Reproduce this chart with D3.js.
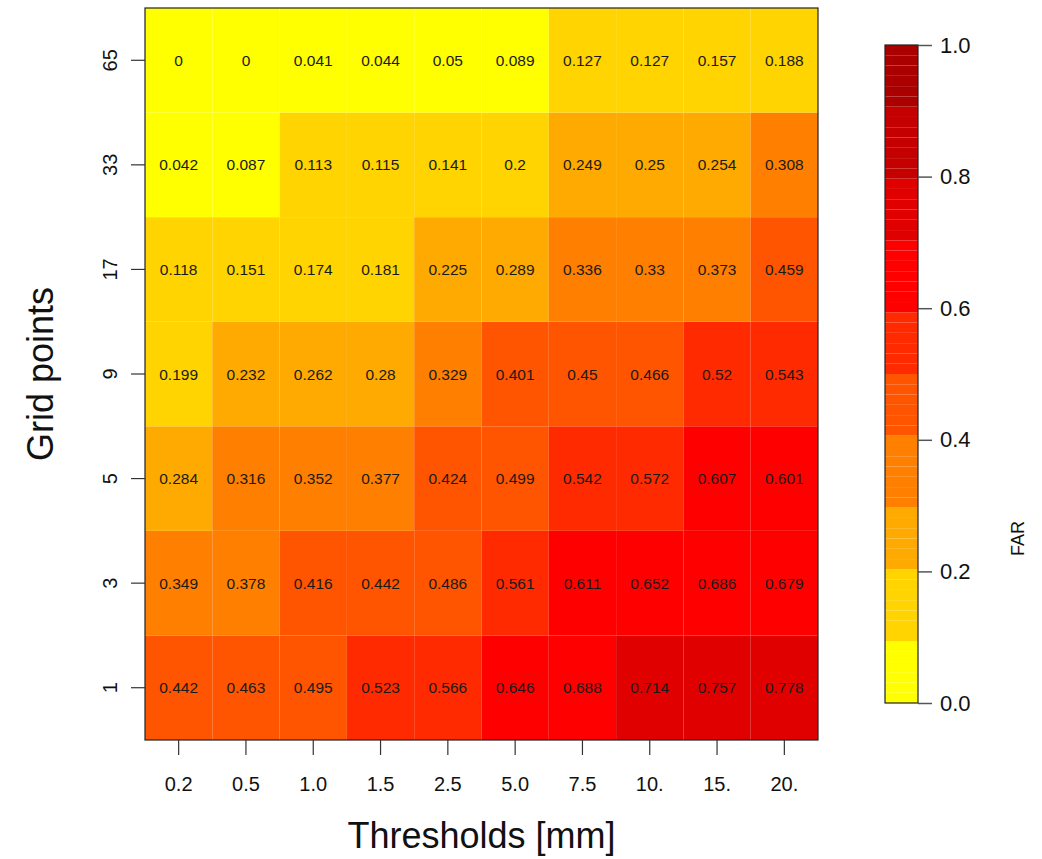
<!DOCTYPE html>
<html>
<head>
<meta charset="utf-8">
<script src="https://cdn.jsdelivr.net/npm/d3@7/dist/d3.min.js"></script>
<style>
  html, body { margin: 0; padding: 0; background: #fff; }
  svg { display: block; font-family: "Liberation Sans", Arial, Helvetica, sans-serif; }
</style>
</head>
<body>
<svg id="chart" width="1042" height="859"></svg>
<script>
// ---- data ----
const thresholds = ["0.2", "0.5", "1.0", "1.5", "2.5", "5.0", "7.5", "10.", "15.", "20."];
const gridPoints = ["1", "3", "5", "9", "17", "33", "65"];
const far1  = [0.442, 0.463, 0.495, 0.523, 0.566, 0.646, 0.688, 0.714, 0.757, 0.778];
const far3  = [0.349, 0.378, 0.416, 0.442, 0.486, 0.561, 0.611, 0.652, 0.686, 0.679];
const far5  = [0.284, 0.316, 0.352, 0.377, 0.424, 0.499, 0.542, 0.572, 0.607, 0.601];
const far9  = [0.199, 0.232, 0.262, 0.28, 0.329, 0.401, 0.45, 0.466, 0.52, 0.543];
const far17 = [0.118, 0.151, 0.174, 0.181, 0.225, 0.289, 0.336, 0.33, 0.373, 0.459];
const far33 = [0.042, 0.087, 0.113, 0.115, 0.141, 0.2, 0.249, 0.25, 0.254, 0.308];
const far65 = [0, 0, 0.041, 0.044, 0.05, 0.089, 0.127, 0.127, 0.157, 0.188];
const farRows = [far1, far3, far5, far9, far17, far33, far65];
const colorBreaks = [0.1, 0.2, 0.3, 0.4, 0.5, 0.6, 0.7, 0.8, 0.9];
const palette = ["#FFFF00", "#FFD400", "#FFAA00", "#FF7F00", "#FF5500", "#FF2A00", "#FF0000", "#E00000", "#C40000", "#AA0000"];
const legendTicks = [0, 0.2, 0.4, 0.6, 0.8, 1.0];

// ---- layout ----
const svg = d3.select("#chart");
const plot = { left: 145, right: 818, top: 8, bottom: 740 };
const bar = { left: 885, right: 918, top: 45, bottom: 703 };

const x = d3.scaleBand().domain(thresholds).range([plot.left, plot.right]).padding(0);
const y = d3.scaleBand().domain(gridPoints).range([plot.bottom, plot.top]).padding(0);
const binIndex = v => d3.bisectLeft(colorBreaks, v);
const color = d3.scaleOrdinal().domain(d3.range(palette.length)).range(palette);

const cells = [];
farRows.forEach((row, ri) => row.forEach((v, ci) => cells.push({ g: gridPoints[ri], t: thresholds[ci], v })));

// cells
svg.append("g").selectAll("rect").data(cells).join("rect")
  .attr("x", d => x(d.t))
  .attr("y", d => y(d.g))
  .attr("width", x.bandwidth())
  .attr("height", y.bandwidth())
  .attr("fill", d => color(binIndex(d.v)));

// cell labels
svg.append("g").selectAll("text").data(cells).join("text")
  .attr("x", d => x(d.t) + x.bandwidth() / 2)
  .attr("y", d => y(d.g) + y.bandwidth() / 2)
  .attr("text-anchor", "middle")
  .attr("dominant-baseline", "central")
  .attr("font-size", 15.5)
  .attr("fill", "#1a1a1a")
  .text(d => String(d.v));

// box
svg.append("rect")
  .attr("x", plot.left).attr("y", plot.top)
  .attr("width", plot.right - plot.left).attr("height", plot.bottom - plot.top)
  .attr("fill", "none").attr("stroke", "#222").attr("stroke-width", 1.2);

// x axis
const xAxis = d3.axisBottom(x).tickSize(15).tickPadding(22);
const gx = svg.append("g").attr("transform", `translate(0,${plot.bottom})`).call(xAxis);
gx.select(".domain").remove();
gx.selectAll(".tick line").attr("stroke", "#333").attr("stroke-width", 1.2);
gx.selectAll(".tick text").attr("font-size", 20).attr("fill", "#111").attr("font-family", "Liberation Sans, Arial, sans-serif");

// y axis
const yAxis = d3.axisLeft(y).tickSize(14).tickPadding(0);
const gy = svg.append("g").attr("transform", `translate(${plot.left},0)`).call(yAxis);
gy.select(".domain").remove();
gy.selectAll(".tick line").attr("stroke", "#333").attr("stroke-width", 1.2);
gy.selectAll(".tick text")
  .attr("font-size", 20).attr("fill", "#111").attr("font-family", "Liberation Sans, Arial, sans-serif")
  .attr("x", null).attr("dy", null)
  .attr("text-anchor", "middle")
  .attr("transform", "translate(-35,0) rotate(-90)")
  .attr("dominant-baseline", "central");

// axis titles
svg.append("text")
  .attr("x", (plot.left + plot.right) / 2).attr("y", 848)
  .attr("text-anchor", "middle").attr("font-size", 36).attr("fill", "#111")
  .text("Thresholds [mm]");
svg.append("text")
  .attr("transform", `translate(53,${(plot.top + plot.bottom) / 2}) rotate(-90)`)
  .attr("text-anchor", "middle").attr("font-size", 36).attr("fill", "#111")
  .text("Grid points");

// color bar
const ly = d3.scaleLinear().domain([0, 1]).range([bar.bottom, bar.top]);
const nSteps = 64;
const steps = d3.range(nSteps).map(k => ({ lo: k / nSteps, hi: (k + 1) / nSteps, mid: (k + 0.5) / nSteps }));
svg.append("g").selectAll("rect").data(steps).join("rect")
  .attr("x", bar.left)
  .attr("y", d => ly(d.hi))
  .attr("width", bar.right - bar.left)
  .attr("height", d => ly(d.lo) - ly(d.hi))
  .attr("fill", d => color(binIndex(d.mid)));
svg.append("rect")
  .attr("x", bar.left).attr("y", bar.top)
  .attr("width", bar.right - bar.left).attr("height", bar.bottom - bar.top)
  .attr("fill", "none").attr("stroke", "#222").attr("stroke-width", 1.2);

const lAxis = d3.axisRight(ly).tickValues(legendTicks).tickFormat(d3.format(".1f")).tickSize(14).tickPadding(8);
const gl = svg.append("g").attr("transform", `translate(${bar.right},0)`).call(lAxis);
gl.select(".domain").remove();
gl.selectAll(".tick line").attr("stroke", "#555").attr("stroke-width", 1.5);
gl.selectAll(".tick text").attr("font-size", 22).attr("fill", "#111").attr("font-family", "Liberation Sans, Arial, sans-serif");

svg.append("text")
  .attr("transform", `translate(1018,${ly(0.25)}) rotate(-90)`)
  .attr("text-anchor", "middle").attr("dominant-baseline", "central")
  .attr("font-size", 18).attr("fill", "#111")
  .text("FAR");
</script>
</body>
</html>
